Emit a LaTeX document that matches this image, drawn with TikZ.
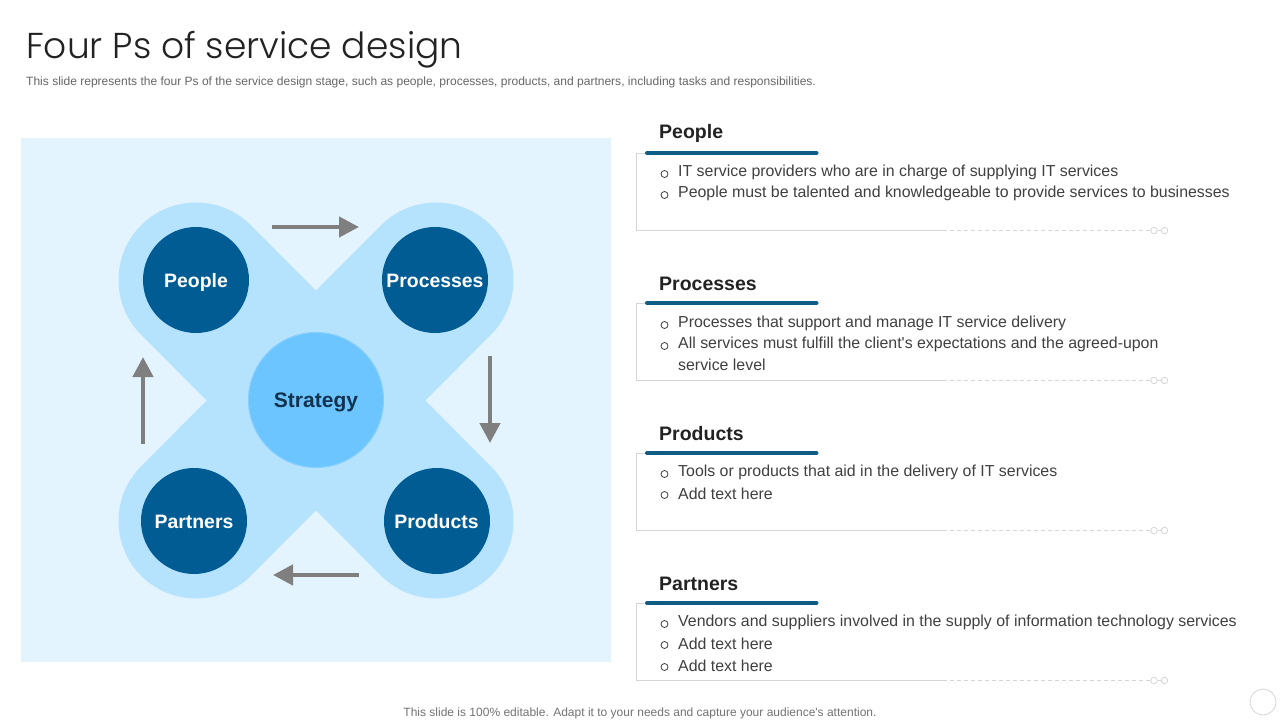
\documentclass[tikz,border=0pt]{standalone}
\usepackage{fontspec}
\setmainfont{Liberation Sans}
\newfontfamily\straight{Liberation Sans}
\newfontfamily\titlefont{Poppins Light}
\usetikzlibrary{arrows.meta}
\definecolor{panel}{HTML}{E3F4FE}
\definecolor{band}{HTML}{B5E3FE}
\definecolor{navy}{HTML}{015C94}
\definecolor{mid}{HTML}{6CC5FE}
\definecolor{rulec}{HTML}{0F5C85}
\definecolor{greyline}{HTML}{D6D6D6}
\definecolor{arrowc}{HTML}{7F7F7F}
\definecolor{bodyc}{HTML}{404040}
\definecolor{headc}{HTML}{222222}
\definecolor{hubtext}{HTML}{12324F}
\tikzset{
 x=1pt,y=-1pt,
 lobe/.style={draw=band,line width=155pt,line cap=round},
 pnode/.style={circle,fill=navy,minimum size=106pt,inner sep=0pt,text=white,font=\fontsize{19.4}{24}\selectfont\bfseries},
 hub/.style={circle,fill=mid,draw=mid!65!band,line width=1pt,minimum size=135pt,inner sep=0pt,text=hubtext,font=\fontsize{21}{25}\selectfont\bfseries},
 flow/.style={draw=arrowc,line width=4.4pt,-{Triangle[length=20pt,width=20pt]}},
 heading/.style={anchor=west,inner sep=0pt,text=headc,font=\fontsize{19.5}{24}\selectfont\bfseries},
 item/.style={anchor=west,inner sep=0pt,text=bodyc,font=\fontsize{15.9}{20}\selectfont},
 bullet/.style={circle,draw=bodyc,line width=.8pt,minimum size=7pt,inner sep=0pt},
 frameline/.style={draw=greyline,line width=1pt},
 tail/.style={draw=greyline,line width=.8pt,dash pattern=on 4pt off 3pt},
 ringend/.style={circle,draw=greyline,line width=.8pt,minimum size=6.5pt,inner sep=0pt},
 accent/.style={draw=rulec,line width=4pt,line cap=round},
}
\begin{document}
\begin{tikzpicture}
\useasboundingbox (0,0) rectangle (1280,720);
\fill[white] (0,0) rectangle (1280,720);
\node[anchor=west,inner sep=0pt,text=headc,font=\fontsize{36}{44}\titlefont] (title) at (26,50) {Four Ps of service design};
\node[anchor=west,inner sep=0pt,text=black!60,font=\fontsize{12.03}{14}\selectfont] (sub) at (26,82.5) {This slide represents the four Ps of the service design stage, such as people, processes, products, and partners, including tasks and responsibilities.};
\fill[panel] (21,138) rectangle (611,662);
\coordinate (tl) at (196,280);
\coordinate (tr) at (436,280);
\coordinate (bl) at (196,521);
\coordinate (br) at (436,521);
\draw[lobe] (tl) -- (br);
\draw[lobe] (tr) -- (bl);
\node[pnode] (people) at (196,280) {\raisebox{0pt}[14.6pt][0pt]{People}};
\node[pnode] (processes) at (435,280) {\raisebox{0pt}[14.6pt][0pt]{Processes}};
\node[pnode] (partners) at (194,521) {\raisebox{0pt}[14.6pt][0pt]{Partners}};
\node[pnode] (products) at (437,521) {\hspace{-1pt}\raisebox{0pt}[14.6pt][0pt]{Products}};
\node[hub] (strategy) at (316,400) {\raisebox{0pt}[15.6pt][0pt]{Strategy}};
\coordinate (a1s) at (272,227); \coordinate (a1e) at (359,227);
\coordinate (a2s) at (490,356); \coordinate (a2e) at (490,443);
\coordinate (a3s) at (359,575); \coordinate (a3e) at (273,575);
\coordinate (a4s) at (143,444); \coordinate (a4e) at (143,357);
\draw[flow] (a1s) -- (a1e);
\draw[flow] (a2s) -- (a2e);
\draw[flow] (a3s) -- (a3e);
\draw[flow] (a4s) -- (a4e);
\foreach \y/\t in {0/People,150/Processes,300/Products,450/Partners}{
 \node[heading] at (659,133.5+\y) {\t};
 \draw[frameline] (636.5,153+\y) -- (636.5,230.5+\y) -- (943,230.5+\y);
 \draw[frameline] (636.5,153+\y) -- (646,153+\y);
 \draw[tail] (943,230.5+\y) -- (1150,230.5+\y);
 \node[ringend] (ra\y) at (1154,230.5+\y) {};
 \node[ringend] (rb\y) at (1164.5,230.5+\y) {};
 \draw[frameline,line width=.8pt] (ra\y) -- (rb\y);
 \draw[accent] (647,153+\y) -- (816.5,153+\y);
}
\foreach \y/\t in {
 172/{IT service providers who are in charge of supplying IT services},
 193/{People must be talented and knowledgeable to provide services to businesses},
 323/{Processes that support and manage IT service delivery},
 344/{All services must fulfill the client{\straight'}s expectations and the agreed-upon},
 472/{Tools or products that aid in the delivery of IT services},
 493/{Add text here},
 622/{Vendors and suppliers involved in the supply of information technology services},
 643/{Add text here},
 665/{Add text here}}{
 \node[bullet] at (664.5,\y+2) {};
 \node[item] at (678,\y+.5) {\t};
}
\node[item] at (678,365) {service level};
\node[inner sep=0pt,text=black!55,font=\fontsize{12}{14}\selectfont] (foot) at (640,713.5) {This slide is 100\% editable. Adapt it to your needs and capture your audience{\straight'}s attention.};
\node[circle,draw=greyline,line width=.8pt,minimum size=26pt,inner sep=0pt] (pg) at (1263,702) {};
\end{tikzpicture}
\end{document}
